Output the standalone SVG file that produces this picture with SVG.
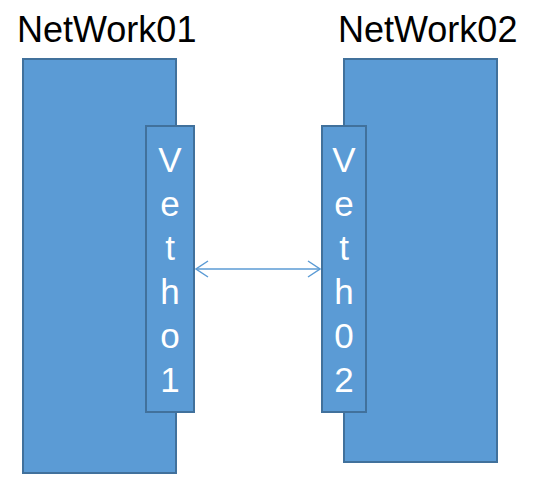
<svg xmlns="http://www.w3.org/2000/svg" width="536" height="494" viewBox="0 0 536 494">
<style>
.box{fill:#5B9BD5;stroke:#41719C;stroke-width:2}
.title{font-family:"Liberation Sans",Arial,sans-serif;font-size:36px;fill:#000}
.lbl{font-family:"Liberation Sans",Arial,sans-serif;font-size:35px;fill:#fff;text-anchor:middle}
.conn{stroke:#5B9BD5;stroke-width:1.5;fill:none}
</style>
<defs>
<marker id="chev" viewBox="0 0 14 18" refX="13" refY="9" markerWidth="14" markerHeight="18" markerUnits="userSpaceOnUse" orient="auto-start-reverse">
<path d="M1,1 L13,9 L1,17" fill="none" stroke="#5B9BD5" stroke-width="1.5"/>
</marker>
</defs>
<rect width="536" height="494" fill="#fff"/>
<g id="network01">
<rect class="box" x="23" y="59" width="153" height="414"/>
<text class="title" x="17" y="42">NetWork01</text>
</g>
<g id="network02">
<rect class="box" x="344" y="59" width="153" height="403"/>
<text class="title" x="338" y="42">NetWork02</text>
</g>
<g id="veth01">
<rect class="box" x="146" y="126" width="48" height="286"/>
<text class="lbl" x="170" y="172">V</text>
<text class="lbl" x="170" y="216">e</text>
<text class="lbl" x="170" y="260">t</text>
<text class="lbl" x="170" y="304">h</text>
<text class="lbl" x="170" y="348">o</text>
<text class="lbl" x="170" y="392">1</text>
</g>
<g id="veth02">
<rect class="box" x="322" y="126" width="44" height="286"/>
<text class="lbl" x="344" y="172">V</text>
<text class="lbl" x="344" y="216">e</text>
<text class="lbl" x="344" y="260">t</text>
<text class="lbl" x="344" y="304">h</text>
<text class="lbl" x="344" y="348">0</text>
<text class="lbl" x="344" y="392">2</text>
</g>
<g id="connectors">
<line class="conn" x1="196" y1="269" x2="320" y2="269" marker-start="url(#chev)" marker-end="url(#chev)"/>
</g>
</svg>
